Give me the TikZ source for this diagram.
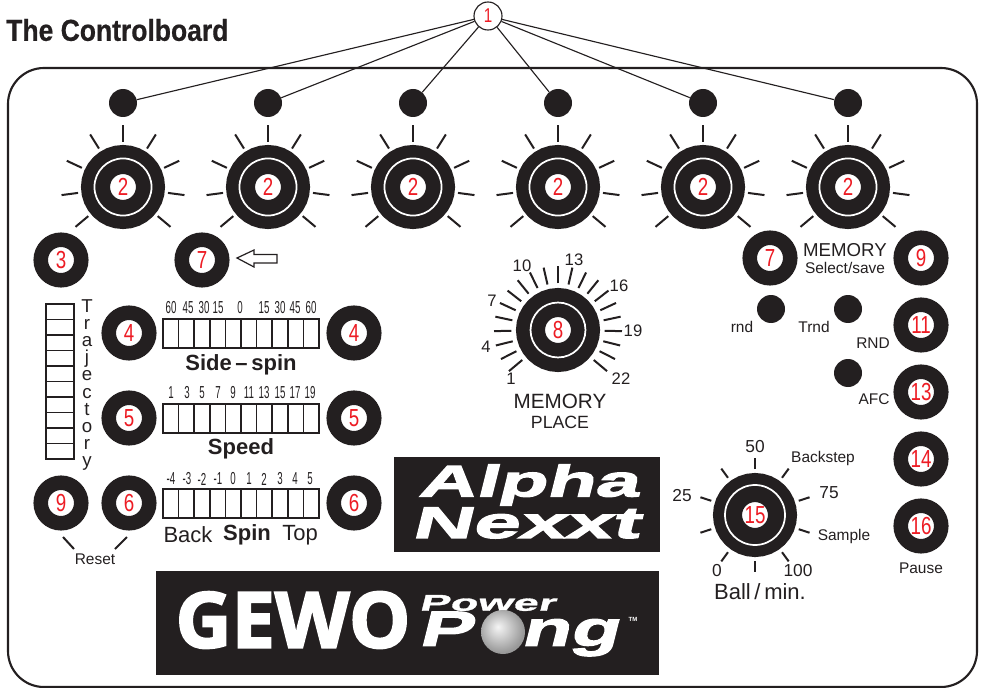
\documentclass[tikz,border=0pt]{standalone}
\usepackage{fontspec}
\usepackage{tikz}
\setmainfont{Liberation Sans}
\newfontfamily\titlefont[FakeStretch=0.875,FakeBold=0.6]{Liberation Sans}
\newfontfamily\digitfont[FakeStretch=0.76]{Liberation Sans}
\newfontfamily\scalefont[FakeStretch=0.56]{Liberation Sans}
\newfontfamily\alphafont[FakeStretch=1.8,FakeSlant=0.25,FakeBold=3]{Liberation Sans}
\newfontfamily\nexxtfont[FakeStretch=1.9,FakeSlant=0.25,FakeBold=3]{Liberation Sans}
\newfontfamily\gewofont[FakeBold=2.5]{Open Sans}
\newfontfamily\powerfont[FakeStretch=2,FakeSlant=0.25,FakeBold=1.5]{Liberation Sans}
\newfontfamily\pongfont[FakeStretch=1.62,FakeSlant=0.25,FakeBold=2.5]{Liberation Sans}
\definecolor{ink}{HTML}{231F20}
\definecolor{numred}{HTML}{ED1C24}
\pgfdeclareradialshading{pongball}{\pgfpoint{-6bp}{6bp}}{color(0bp)=(white!92!gray);color(10bp)=(white!65!gray);color(26bp)=(white!20!gray);color(50bp)=(white!20!gray)}
\tikzset{
	txt/.style={inner sep=0pt,text=ink,font=\fontsize{11.6}{12}\selectfont},
	midtxt/.style={txt,font=\fontsize{13}{14}\selectfont},
	bigtxt/.style={txt,font=\fontsize{16.5}{18}\selectfont},
	boldtxt/.style={txt,font=\fontsize{16.5}{18}\selectfont\bfseries},
	scaletxt/.style={inner sep=0pt,text=ink,font=\fontsize{13}{14}\scalefont},
	logotxt/.style={inner sep=0pt,text=white},
	button/.style={circle,fill=white,draw=ink,line width=10.9pt,minimum size=30.4pt,inner sep=0pt,text=numred,font=\fontsize{18.5}{19}\digitfont},
	knob/.style={button,line width=21.75pt,minimum size=41.25pt},
	dot/.style={circle,fill=ink,minimum size=21pt,inner sep=0pt},
	ring/.style={white,line width=1.3pt},
	tick/.style={ink,line width=1.5pt},
	cellbar/.style={draw=ink,line width=1.3pt},
	thinline/.style={ink,line width=0.85pt}
}
\begin{document}
\begin{tikzpicture}[x=0.75pt,y=-0.75pt]
	\useasboundingbox (0,0) rectangle (982,688);
	\node[anchor=west,inner sep=0pt,text=ink,font=\fontsize{22.7}{24}\titlefont\bfseries] (title) at (6,30) {The Controlboard};
	\draw[ink,line width=1.6pt,rounded corners=27pt] (8,68) rectangle (977,687);
	% knobs in the top row
	\foreach \k/\x in {k1/123,k2/268,k3/413,k4/558,k5/703,k6/848}{
		\node[knob] (\k) at (\x,187) {2};
		\draw[ring] (\k) circle (21.4pt);
		\foreach \a in {90,58,25,-7.5,-40,122,155,187.5,220}
			\draw[tick,shift={(\k)}] (\a:34pt) -- (\a:46.5pt);
		\node[dot] (d\k) at (\x,103) {};
	}
	\node[circle,draw=ink,fill=white,line width=0.85pt,minimum size=21pt,inner sep=0pt,text=numred,font=\fontsize{15}{16}\digitfont] (one) at (488,16) {1};
	\foreach \k in {k1,k2,k3,k4,k5,k6}
		\draw[thinline] (one) -- (d\k);
	% buttons
	\node[button] (b3) at (61,260) {3};
	\node[button] (b7l) at (202,260) {7};
	\node[button] (b4l) at (129,333) {4};
	\node[button] (b4r) at (354,333) {4};
	\node[button] (b5l) at (129,418) {5};
	\node[button] (b5r) at (354,418) {5};
	\node[button] (b6l) at (129,503) {6};
	\node[button] (b6r) at (354,503) {6};
	\node[button] (b9l) at (61,503) {9};
	\node[button] (b7r) at (770,258) {7};
	\node[button] (b9r) at (921,258) {9};
	\node[button] (b11) at (921,325) {11};
	\node[button] (b13) at (921,392) {13};
	\node[button] (b14) at (921,459) {14};
	\node[button] (b16) at (921,526) {16};
	\node[dot] (drnd) at (771,309) {};
	\node[dot] (dtrnd) at (848,309) {};
	\node[dot] (dafc) at (848,373) {};
	\draw[ink,line width=0.9pt] (237,258)--(254,250)--(254,254.5)--(277,254.5)--(277,263)--(254,263)--(254,267)--cycle;
	% the three bars and the trajectory column
	\foreach \y in {319,404,489}{
		\draw[cellbar] (163,\y) rectangle (319,\y+29);
		\foreach \i in {1,...,9}
			\draw[cellbar] ({163+\i*15.6},\y) -- ({163+\i*15.6},\y+29);
	}
	\draw[cellbar] (46,304) rectangle (74,459);
	\foreach \i in {1,...,9}
		\draw[cellbar] (46,{304+\i*15.5}) -- (74,{304+\i*15.5});
	\node[txt,align=center,font=\fontsize{14}{12.9}\selectfont] (traj) at (87,385) {T\\r\\a\\j\\e\\c\\t\\o\\r\\y};
	\foreach \l/\x [count=\i] in {60/171,45/188,30/204,15/218,0/240,15/264,30/280,45/295,60/311}
		\node[scaletxt] (side\i) at (\x,308) {\l};
	\foreach \l/\x [count=\i] in {1/171,3/187,5/202,7/218,9/233,11/249,13/264,15/280,17/295,19/310}
		\node[scaletxt] (speed\i) at (\x,393) {\l};
	\foreach \l/\x [count=\i] in {-4/171,-3/187,-2/202,-1/218,0/233,1/249,2/264,3/280,4/295,5/310}
		\node[scaletxt] (spin\i) at (\x,479) {\l};
	\node[boldtxt] (sidespin) at (241,365) {Side\,--\,spin};
	\node[boldtxt] (speed) at (241,449) {Speed};
	\node[bigtxt] (back) at (188,535) {Back};
	\node[boldtxt] (spin) at (247,535) {Spin};
	\node[bigtxt] (top) at (300,535) {Top};
	\node[txt] (reset) at (95,559) {Reset};
	\coordinate (resetla) at (63,537);
	\coordinate (resetlb) at (74,549);
	\coordinate (resetra) at (127,537);
	\coordinate (resetrb) at (115,549);
	\draw[tick] (resetla) -- (resetlb);
	\draw[tick] (resetra) -- (resetrb);
	% memory knob
	\node[knob] (k8) at (558,330) {8};
	\draw[ring] (k8) circle (20.6pt);
	\foreach \a in {220,207,...,-40}
		\draw[tick,shift={(k8)}] (\a:35pt) -- (\a:48pt);
	\foreach \l/\x/\y in {1/511/379,4/486/347,7/492/301,10/522/266,13/574/260,16/619/286,19/633/331,22/621/379}
		\node[txt,font=\fontsize{12.5}{13}\selectfont] (m\l) at (\x,\y) {\l};
	\node[txt,font=\fontsize{15.5}{16}\selectfont] (memplace) at (560,401) {MEMORY};
	\node[txt,font=\fontsize{13.3}{14}\selectfont] (place) at (560,422) {PLACE};
	% labels on the right
	\node[txt,font=\fontsize{14}{15}\selectfont] (memsel) at (845,250) {MEMORY};
	\node[txt] (select) at (845,268) {Select/save};
	\node[txt] (rnd) at (742,327) {rnd};
	\node[txt] (trnd) at (814,327) {Trnd};
	\node[txt] (bigrnd) at (873,343) {RND};
	\node[txt] (afc) at (874,399) {AFC};
	\node[txt] (pause) at (921,568) {Pause};
	% ball knob
	\node[knob] (k15) at (755,515) {15};
	\draw[ring] (k15) circle (22.5pt);
	\foreach \a in {90,54,18,-18,-54,-90,126,162,198,234}
		\draw[tick,shift={(k15)}] (\a:34.5pt) -- (\a:43pt);
	\node[midtxt] (n50) at (755,447) {50};
	\node[txt] (backstep) at (823,458) {Backstep};
	\node[midtxt] (n75) at (829,493) {75};
	\node[txt] (sample) at (844,536) {Sample};
	\node[midtxt] (n25) at (682,496) {25};
	\node[midtxt] (n0) at (717,571) {0};
	\node[midtxt] (n100) at (798,571) {100};
	\node[bigtxt] (ballmin) at (760,592) {Ball\,/\,min.};
	% logos
	\fill[ink] (394,457) rectangle (660,552);
	\node[logotxt,font=\fontsize{33}{34}\alphafont\bfseries] (alpha) at (528,485) {Alpha};
	\node[logotxt,font=\fontsize{33}{34}\nexxtfont\bfseries] (nexxt) at (525,523) {Nexxt};
	\fill[ink] (156,571) rectangle (659,675);
	\node[logotxt,font=\fontsize{58}{60}\gewofont\bfseries] (gewo) at (293,620) {GEWO};
	\node[logotxt,font=\fontsize{17}{18}\powerfont\bfseries] (power) at (487,603) {Power};
	\node[logotxt,font=\fontsize{37}{38}\pongfont\bfseries] (pong) at (518,634) {P{\color{ink}o}ng};
	\node[logotxt,font=\fontsize{4.5}{5}\bfseries] (tm) at (633,619) {TM};
	\shade[shading=pongball] (503,632) circle (16.5pt);
\end{tikzpicture}
\end{document}
